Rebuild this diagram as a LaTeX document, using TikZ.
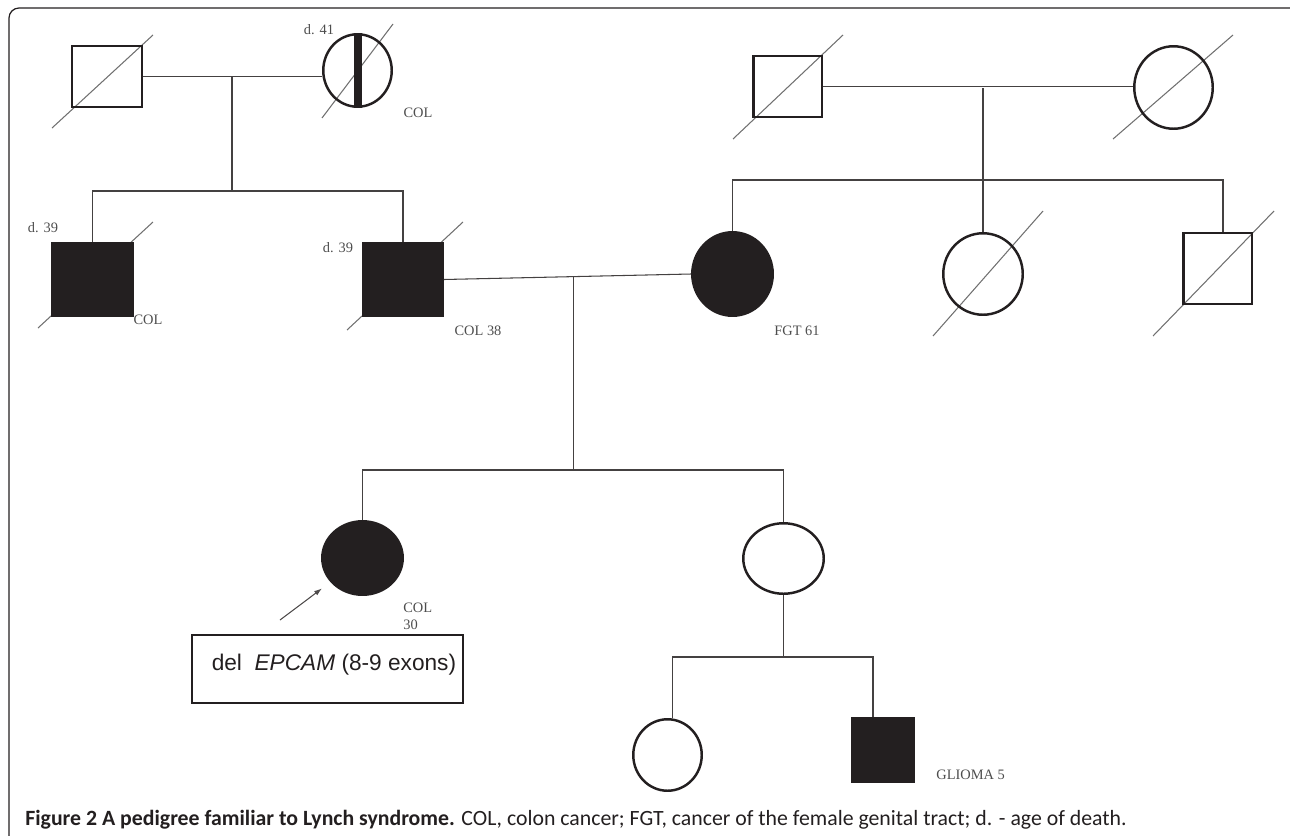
\documentclass[tikz,border=0pt]{standalone}
\usepackage{fontspec}
\setmainfont{Liberation Serif}
\newfontfamily\capfont{Carlito}
\newfontfamily\boxfont{Liberation Sans}
\usetikzlibrary{arrows.meta,positioning,shapes.geometric,backgrounds,calc}
\definecolor{ink}{HTML}{231F20}
\definecolor{lblgrey}{HTML}{4D4D4D}
\definecolor{dead}{HTML}{707070}

\begin{document}
\begin{tikzpicture}[x=0.02cm,y=-0.02cm,
    male/.style={draw=ink,line width=1.4pt,inner sep=0pt},
    female/.style={ellipse,draw=ink,line width=1.4pt,inner sep=0pt},
    aff/.style={fill=ink},
    lbl/.style={font=\fontsize{8.2}{9.6}\selectfont,text=lblgrey,inner sep=0pt},
    link/.style={draw=ink!85,line width=0.6pt},
    slashln/.style={draw=dead,line width=0.6pt},
    >={Latex[length=4.5pt,width=3pt]}]
  \useasboundingbox (0,0) rectangle (1290,835);
  \draw[ink,line width=0.7pt,rounded corners=0.2cm] (9,836) |- (1292,8);

  % grandparents
  \node[male,minimum width=1.39cm,minimum height=1.21cm] (gf1) at (107,76.5) {};
  \node[female,minimum width=1.37cm,minimum height=1.45cm] (gm1) at (357.5,70.5) {};
  \fill[ink] ([xshift=-0.08cm]gm1.north) rectangle ([xshift=0.08cm]gm1.south);
  \node[male,minimum width=1.37cm,minimum height=1.21cm] (gf2) at (787.5,86.5) {};
  \node[female,minimum width=1.57cm,minimum height=1.65cm] (gm2) at (1173.5,87.5) {};

  % parents, uncles, aunt
  \node[male,aff,minimum width=1.61cm,minimum height=1.45cm] (unc1) at (92.5,279.5) {};
  \node[male,aff,minimum width=1.59cm,minimum height=1.45cm] (fa) at (403,279.5) {};
  \node[female,aff,minimum width=1.61cm,minimum height=1.67cm] (fgt) at (732.5,274) {};
  \node[female,minimum width=1.59cm,minimum height=1.63cm] (aunt) at (983,274) {};
  \node[male,minimum width=1.37cm,minimum height=1.41cm] (unc2) at (1217.5,268.5) {};

  % proband and sister
  \node[female,aff,minimum width=1.61cm,minimum height=1.47cm] (pro) at (362.5,558) {};
  \node[female,minimum width=1.61cm,minimum height=1.41cm] (sis) at (783.5,558.5) {};

  % sister's children
  \node[female,minimum width=1.37cm,minimum height=1.43cm] (gd) at (667.5,755) {};
  \node[male,aff,minimum width=1.23cm,minimum height=1.27cm] (gs) at (883,750) {};

  % deceased
  \begin{scope}[on background layer]
    \foreach \p/\ax/\ay/\bx/\by in {gf1/-55/51.5/46/-41.5, gm1/-35.5/47.5/35.5/-46.5,
        unc1/-54.5/48.5/60.5/-57.5, fa/-56/50.5/60/-57.5, gf2/-54.5/52.5/55.5/-51.5,
        gm2/-60.5/51.5/59.5/-52.5, aunt/-50/62/60/-63, unc2/-64.5/67.5/56.5/-57.5}
      \draw[slashln] ([shift={(\ax,\ay)}]\p.center) -- ([shift={(\bx,\by)}]\p.center);
  \end{scope}

  % lines of descent
  \draw[link] (gf1.east) -- (gf1.east -| gm1.west);
  \coordinate (m1) at (232,77);
  \coordinate (s1) at (232,191);
  \draw[link] (m1) -- (s1);
  \draw[link] (unc1.north) |- (s1) -| (fa.north);

  \draw[link] (gf2.east) -- (gf2.east -| gm2.west);
  \coordinate (m2) at (983,88);
  \coordinate (s2) at (983,180);
  \draw[link] (m2) -- (aunt.north);
  \draw[link] (fgt.north) |- (s2) -| ([xshift=0.11cm]unc2.north);

  \draw[link] (fa.east) -- (fgt.west);
  \coordinate (m3) at ($(fa.east)!0.523!(fgt.west)$);
  \coordinate (s3) at (573,470);
  \draw[link] (m3) -- (m3 |- s3);
  \draw[link] (pro.north) |- (s3) -| (sis.north);

  \coordinate (s4) at (783.5,657);
  \draw[link] (sis.south) -- (s4);
  \draw[link] ([xshift=0.1cm]gd.north) |- (s4) -| ([xshift=-0.2cm]gs.north);

  % labels
  \node[lbl] (gm1d) at (319,30) {d. 41};
  \node[lbl] (gm1c) at (418,113) {COL};
  \node[lbl] (unc1d) at (43,228) {d. 39};
  \node[lbl] (unc1c) at (148,320) {COL};
  \node[lbl] (fad) at (338,248) {d. 39};
  \node[lbl] (fac) at (478,331) {COL 38};
  \node[lbl] (fgtc) at (797,331) {FGT 61};
  \node[lbl,align=left,anchor=north west] (proc) at (403,603) {COL\\30};
  \node[lbl,anchor=west] (gsc) at (936,775) {GLIOMA 5};

  % proband
  \coordinate (ptr) at (280,620);
  \draw[->,ink!80,line width=0.6pt,shorten >=0.21cm] (ptr) -- (pro);
  \node[draw=ink,line width=0.7pt,minimum width=5.42cm,minimum height=1.36cm,inner sep=0pt] (del) at (327.5,669) {};
  \node[anchor=base west,inner sep=0pt,font=\boxfont\fontsize{12.9}{15}\selectfont,text=ink] (deltxt)
    at ([shift={(20,1)}]del.west) {del~~\textit{EPCAM} (8-9 exons)};

  \node[anchor=base west,inner sep=0pt,font=\capfont\fontsize{12.4}{14}\selectfont,text=ink] (cap) at (25,825)
    {\textbf{Figure 2 A pedigree familiar to Lynch syndrome.} COL, colon cancer; FGT, cancer of the female genital tract; d. - age of death.};
\end{tikzpicture}
\end{document}
